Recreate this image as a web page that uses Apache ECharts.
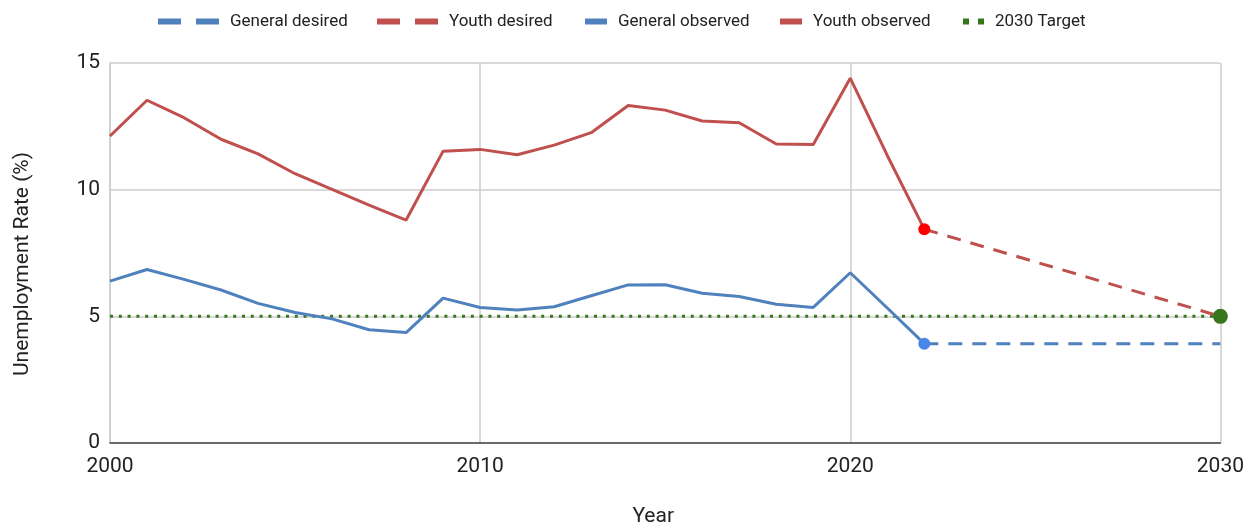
<!DOCTYPE html>
<html>
<head>
<meta charset="utf-8">
<script src="https://cdn.jsdelivr.net/npm/echarts@6/dist/echarts.min.js"></script>
<style>
  html, body { margin: 0; padding: 0; background: #fff; }
  #chart { width: 1247px; height: 532px; }
</style>
</head>
<body>
<div id="chart"></div>
<script>
// Observed unemployment rates, 2000–2022 (%)
const observedYears = [2000, 2001, 2002, 2003, 2004, 2005, 2006, 2007, 2008, 2009, 2010,
  2011, 2012, 2013, 2014, 2015, 2016, 2017, 2018, 2019, 2020, 2021, 2022];
const generalObserved = [6.39, 6.85, 6.46, 6.04, 5.51, 5.15, 4.90, 4.47, 4.36, 5.72, 5.35,
  5.25, 5.38, 5.81, 6.24, 6.25, 5.91, 5.78, 5.48, 5.35, 6.72, 5.33, 3.92];
const youthObserved = [12.12, 13.53, 12.84, 11.99, 11.41, 10.63, 10.01, 9.39, 8.80, 11.52, 11.59,
  11.38, 11.76, 12.25, 13.32, 13.14, 12.71, 12.64, 11.80, 11.78, 14.40, 11.35, 8.44];

// Desired path from the latest observation to 2030
const desiredYears = [2022, 2030];
const generalDesired = [3.92, 3.92];
const youthDesired = [8.44, 5.0];

// 2030 target level
const targetYears = [2000, 2030];
const targetValues = [5, 5];

// Axis ticks
const xTicks = [2000, 2010, 2020, 2030];
const yTicks = [0, 5, 10, 15];

const BLUE = '#4f81bd';
const RED = '#c0504d';
const GREEN = '#38761d';
const FONT = 'Roboto';

const pair = (xs, ys) => xs.map((x, i) => [x, ys[i]]);

const dashIcon = 'path://M0,0h23v6h-23z M38,0h23v6h-23z';
const solidIcon = 'path://M0,0h22v6h-22z';
const dotIcon = 'path://M0,0h6v6h-6z M15,0h6v6h-6z';

function legendItem(left, name, icon, w, color) {
  return {
    left: left,
    top: 8,
    itemWidth: w,
    itemHeight: 6,
    selectedMode: false,
    textStyle: { fontFamily: FONT, fontSize: 17, color: '#222', padding: [0, 0, 0, 6] },
    data: [{ name: name, icon: icon, itemStyle: { color: color, borderWidth: 0 } }]
  };
}

const chart = echarts.init(document.getElementById('chart'));

chart.setOption({
  animation: false,
  backgroundColor: '#fff',
  textStyle: { fontFamily: FONT },
  legend: [
    legendItem(153, 'General desired', dashIcon, 61, BLUE),
    legendItem(372, 'Youth desired', dashIcon, 61, RED),
    legendItem(580, 'General observed', solidIcon, 22, BLUE),
    legendItem(775, 'Youth observed', solidIcon, 22, RED),
    legendItem(958, '2030 Target', dotIcon, 21, GREEN)
  ],
  grid: { left: 110, right: 25, top: 63, bottom: 85, containLabel: false },
  xAxis: {
    type: 'value',
    min: xTicks[0],
    max: xTicks[xTicks.length - 1],
    interval: xTicks[1] - xTicks[0],
    name: 'Year',
    nameLocation: 'middle',
    nameGap: 63,
    nameTextStyle: { fontFamily: FONT, fontSize: 21, color: '#222', padding: [0, 24, 0, 0] },
    axisLine: { show: true, lineStyle: { color: '#444', width: 1.5 } },
    axisTick: { show: false },
    axisLabel: { fontFamily: FONT, fontSize: 21, color: '#222', margin: 13,
      formatter: (v) => String(v) },
    splitLine: { show: true, lineStyle: { color: '#cccccc', width: 1.5 } }
  },
  yAxis: {
    type: 'value',
    min: yTicks[0],
    max: yTicks[yTicks.length - 1],
    interval: yTicks[1] - yTicks[0],
    name: 'Unemployment Rate (%)',
    nameLocation: 'middle',
    nameGap: 77,
    nameTextStyle: { fontFamily: FONT, fontSize: 21, color: '#222', padding: [0, 22, 0, 0] },
    axisLine: { show: true, lineStyle: { color: '#cccccc', width: 1.5 } },
    axisTick: { show: false },
    axisLabel: { fontFamily: FONT, fontSize: 21, color: '#222', margin: 10 },
    splitLine: { show: true, lineStyle: { color: '#cccccc', width: 1.5 } }
  },
  series: [
    {
      name: '2030 Target',
      type: 'line',
      z: 2,
      data: pair(targetYears, targetValues),
      showSymbol: false,
      color: GREEN,
      lineStyle: { color: GREEN, width: 3, type: [3, 5.8], cap: 'butt' },
      emphasis: { disabled: true }
    },
    {
      name: 'General observed',
      type: 'line',
      z: 3,
      data: pair(observedYears, generalObserved),
      showSymbol: false,
      color: BLUE,
      lineStyle: { color: BLUE, width: 3 },
      emphasis: { disabled: true }
    },
    {
      name: 'Youth observed',
      type: 'line',
      z: 3,
      data: pair(observedYears, youthObserved),
      showSymbol: false,
      color: RED,
      lineStyle: { color: RED, width: 3 },
      emphasis: { disabled: true }
    },
    {
      name: 'General desired',
      type: 'line',
      z: 4,
      showSymbol: true,
      symbol: 'circle',
      color: BLUE,
      lineStyle: { color: BLUE, width: 3, type: [14, 10], cap: 'butt' },
      data: [
        { value: [desiredYears[0], generalDesired[0]], symbol: 'circle', symbolSize: 12,
          itemStyle: { color: '#4a86e8', borderWidth: 0 } },
        { value: [desiredYears[1], generalDesired[1]], symbol: 'none' }
      ],
      emphasis: { disabled: true }
    },
    {
      name: 'Youth desired',
      type: 'line',
      z: 4,
      showSymbol: true,
      symbol: 'circle',
      color: RED,
      lineStyle: { color: RED, width: 3, type: [14, 10], cap: 'butt' },
      data: [
        { value: [desiredYears[0], youthDesired[0]], symbol: 'circle', symbolSize: 12,
          itemStyle: { color: '#ff0000', borderWidth: 0 } },
        { value: [desiredYears[1], youthDesired[1]], symbol: 'circle', symbolSize: 15,
          itemStyle: { color: GREEN, borderWidth: 0 } }
      ],
      emphasis: { disabled: true }
    }
  ]
});
</script>
</body>
</html>
